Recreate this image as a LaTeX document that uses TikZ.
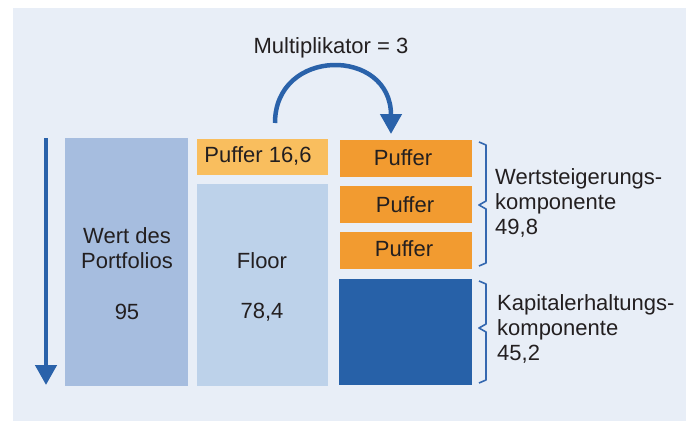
\documentclass[tikz,border=0pt]{standalone}
\usepackage{fontspec}
\setmainfont{Liberation Sans}
\usetikzlibrary{arrows.meta}
\definecolor{bgc}{HTML}{E8EEF7}
\definecolor{wertc}{HTML}{A6BDDF}
\definecolor{floorc}{HTML}{BDD2EA}
\definecolor{lorange}{HTML}{F9BE5E}
\definecolor{dorange}{HTML}{F29B30}
\definecolor{dblue}{HTML}{2761A8}
\definecolor{arrblue}{HTML}{2A62AA}
\definecolor{brblue}{HTML}{3568B0}
\definecolor{txt}{HTML}{231F20}
\tikzset{
  box/.style={draw=none, inner sep=0pt, outer sep=0pt},
  lbl/.style={text=txt, inner sep=0pt, font=\fontsize{22}{25}\selectfont},
  bigarrow/.style={draw=arrblue, line width=4.5pt, -{Triangle[length=20pt,width=21pt]}},
  bracepath/.style={draw=brblue, line width=1.6pt, line join=round},
}
\begin{document}
\begin{tikzpicture}[x=1pt,y=-1pt]
\useasboundingbox (0,0) rectangle (691,421);
\fill[bgc] (13,8) rectangle (686,421);

% boxes
\node[box, fill=wertc, minimum width=123pt, minimum height=248pt] (wert) at (126.5,262) {};
\node[box, fill=lorange, minimum width=131pt, minimum height=36pt] (puf) at (262.5,156.5) {};
\node[box, fill=floorc, minimum width=131pt, minimum height=202pt] (floor) at (262.5,285) {};
\node[box, fill=dorange, minimum width=132.5pt, minimum height=37pt] (p1) at (405.75,158.5) {};
\node[box, fill=dorange, minimum width=132.5pt, minimum height=37pt] (p2) at (405.75,204.5) {};
\node[box, fill=dorange, minimum width=132.5pt, minimum height=37pt] (p3) at (405.75,250.5) {};
\node[box, fill=dblue, minimum width=133.5pt, minimum height=106pt] (kap) at (405.25,332) {};

% texts
\node[lbl, align=center] (wertt) at (127,248.5) {Wert des\\Portfolios};
\node[lbl] (wertv) at (127,312) {95};
\node[lbl] (puft) at (258,156) {Puffer 16,6};
\node[lbl] (floort) at (262,261) {Floor};
\node[lbl] (floorv) at (262,312) {78,4};
\node[lbl] (p1t) at (403,158) {Puffer};
\node[lbl] (p2t) at (405,205) {Puffer};
\node[lbl] (p3t) at (404,249) {Puffer};
\node[lbl] (mult) at (331,48) {Multiplikator = 3};
\node[lbl, anchor=west, align=left] (wst) at (495,203) {Wertsteigerungs-\\komponente\\49,8};
\node[lbl, anchor=west, align=left] (kapt) at (497,329) {Kapitalerhaltungs-\\komponente\\45,2};

% braces
\draw[bracepath] (479,142) -- (486,145) -- (486,201) -- (479,205) -- (486,209) -- (486,263) -- (479,266);
\draw[bracepath] (479,281) -- (486,284) -- (486,324) -- (479,328) -- (486,332) -- (486,380) -- (479,383);

% arrows
\coordinate (atop) at (46,138);
\coordinate (abot) at (46,385);
\draw[bigarrow] (atop) -- (abot);
\coordinate (cstart) at (275,123);
\coordinate (cend) at (391,134);
\draw[bigarrow] (cstart) .. controls (275,47) and (391,47) .. (cend);
\end{tikzpicture}
\end{document}
